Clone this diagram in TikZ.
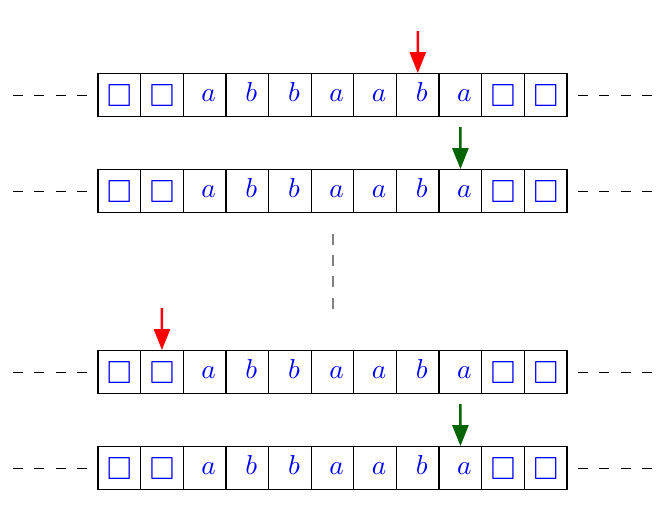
\documentclass[tikz,border=0pt]{standalone}
\usepackage{amssymb}
\usetikzlibrary{arrows.meta}
\definecolor{tapeblue}{RGB}{0,0,255}
\definecolor{headgreen}{RGB}{0,100,0}
\newcommand\blanksym{\fontsize{12.8}{15}\selectfont$\square$}
\newcommand\tapesym[1]{\fontsize{11}{13}\selectfont\hspace*{3.2pt}$#1$}
\tikzset{
  cellbox/.style={draw=black, line width=0.5pt, minimum width=17.06pt, minimum height=17.04pt, inner sep=0pt, text=tapeblue},
  blankcell/.style={cellbox, text height=8.8pt, text depth=0pt},
  lettercell/.style={cellbox, text height=5.4pt, text depth=0pt},
  tapedash/.style={draw=black, line width=0.4pt, dash pattern=on 4pt off 4.52pt},
  gapdash/.style={draw=gray, line width=0.7pt, dash pattern=on 4.4pt off 4.08pt},
  headred/.style={draw=red, fill=red, line width=1pt, -{Triangle[length=8.4pt,width=6.4pt]}},
  headgrn/.style={draw=headgreen, fill=headgreen, line width=1pt, -{Triangle[length=8.4pt,width=6.4pt]}}
}
\begin{document}
\begin{tikzpicture}[x=0.4pt,y=-0.4pt]
\useasboundingbox (0,0) rectangle (669,515);
\foreach \r/\yy in {1/95,2/191,3/372,4/468}{
  \foreach \c/\t/\st in {1/\blanksym/blankcell,2/\blanksym/blankcell,3/\tapesym{a}/lettercell,4/\tapesym{b}/lettercell,5/\tapesym{b}/lettercell,6/\tapesym{a}/lettercell,7/\tapesym{a}/lettercell,8/\tapesym{b}/lettercell,9/\tapesym{a}/lettercell,10/\blanksym/blankcell,11/\blanksym/blankcell}{
    \node[\st] (r\r c\c) at ({98+(\c-0.5)*42.64},\yy) {\t};
  }
  \coordinate (r\r L1) at (13,\yy);
  \coordinate (r\r L2) at (88,\yy);
  \coordinate (r\r R1) at (578,\yy);
  \coordinate (r\r R2) at (655,\yy);
  \draw[tapedash] (r\r L1) -- (r\r L2);
  \draw[tapedash] (r\r R1) -- (r\r R2);
}
\coordinate (g1) at (333,234);
\coordinate (g2) at (333,309);
\draw[gapdash] (g1) -- (g2);
\coordinate (h1) at (417.8,31);
\coordinate (h2) at (460.4,127);
\coordinate (h3) at (162,308);
\coordinate (h4) at (460.4,404);
\draw[headred] (h1) -- (r1c8.north);
\draw[headgrn] (h2) -- (r2c9.north);
\draw[headred] (h3) -- (r3c2.north);
\draw[headgrn] (h4) -- (r4c9.north);
\end{tikzpicture}
\end{document}
